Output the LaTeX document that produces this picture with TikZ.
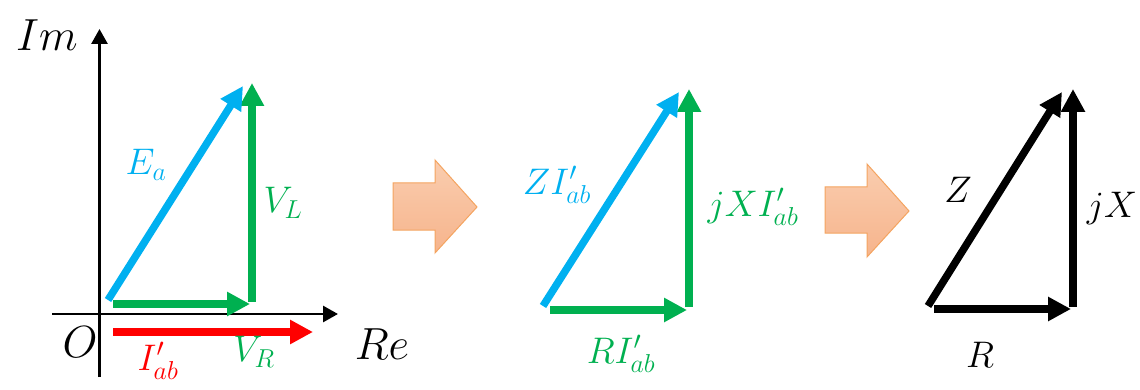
\RequirePackage{fix-cm}
\documentclass[tikz,border=0pt]{standalone}
\usetikzlibrary{arrows.meta}
\definecolor{cblue}{RGB}{0,176,240}
\definecolor{cgreen}{RGB}{0,176,80}
\definecolor{cred}{RGB}{255,0,0}
\definecolor{bafill1}{RGB}{250,205,175}
\definecolor{bafill2}{RGB}{246,180,140}
\definecolor{badraw}{RGB}{244,164,96}
\begin{document}
\begin{tikzpicture}[x=1pt,y=-1pt,
  axis/.style={line width=2.8pt,-{Triangle[length=15pt,width=16pt]}},
  vec/.style={line width=7.5pt,-{Triangle[length=23pt,width=23pt]}},
  lab/.style={inner sep=0pt,font=\fontsize{37}{42}\selectfont},
  biglab/.style={inner sep=0pt,font=\fontsize{45}{50}\selectfont},
  blockarrow/.style={draw=badraw,line width=1pt,top color=bafill1,bottom color=bafill2}]
\useasboundingbox (0,0) rectangle (1140,390);
% left diagram
\coordinate (ax0) at (99.5,377);
\coordinate (ax1) at (99.5,29);
\coordinate (bx0) at (52,314);
\coordinate (bx1) at (338,314);
\draw[axis] (ax0) -- (ax1);
\draw[axis] (bx0) -- (bx1);
\coordinate (ea0) at (108,300);
\coordinate (ea1) at (243,86);
\coordinate (vr0) at (113,304);
\coordinate (vr1) at (250,304);
\coordinate (vl0) at (252,302);
\coordinate (vl1) at (252,83);
\coordinate (i0) at (113,332);
\coordinate (i1) at (313,332);
\draw[vec,cgreen] (vr0) -- (vr1);
\draw[vec,cgreen] (vl0) -- (vl1);
\draw[vec,cblue] (ea0) -- (ea1);
\draw[vec,cred] (i0) -- (i1);
\node[biglab] (im) at (47,35) {$Im$};
\node[biglab] (re) at (382,344) {$Re$};
\node[biglab] (o) at (80,342) {$O$};
\node[lab,text=cblue] (lea) at (146,165) {$E_a$};
\node[lab,text=cgreen] (lvl) at (283,203) {$V_L$};
\node[lab,text=cgreen] (lvr) at (254,352) {$V_R$};
\node[lab,text=cred] (li) at (158,361) {$I'_{ab}$};
% block arrow 1
\draw[blockarrow] (393,183) -- (435,183) -- (435,160) -- (477,207) -- (435,253) -- (435,230) -- (393,230) -- cycle;
% middle diagram
\coordinate (z0) at (543,306);
\coordinate (z1) at (679,92);
\coordinate (r0) at (550,310);
\coordinate (r1) at (687,310);
\coordinate (x0) at (689,307);
\coordinate (x1) at (689,89);
\draw[vec,cgreen] (r0) -- (r1);
\draw[vec,cgreen] (x0) -- (x1);
\draw[vec,cblue] (z0) -- (z1);
\node[lab,text=cblue] (lz) at (557,185) {$ZI'_{ab}$};
\node[lab,text=cgreen] (lx) at (753,207) {$jXI'_{ab}$};
\node[lab,text=cgreen] (lr) at (621,354) {$RI'_{ab}$};
% block arrow 2
\draw[blockarrow] (825,187) -- (867,187) -- (867,164) -- (909,211) -- (867,257) -- (867,233) -- (825,233) -- cycle;
% right diagram
\coordinate (bz0) at (928,306);
\coordinate (bz1) at (1062,92);
\coordinate (br0) at (934,309);
\coordinate (br1) at (1071,309);
\coordinate (bx0r) at (1073,307);
\coordinate (bx1r) at (1073,89);
\draw[vec,black] (br0) -- (br1);
\draw[vec,black] (bx0r) -- (bx1r);
\draw[vec,black] (bz0) -- (bz1);
\node[lab] (lbz) at (958,190) {$Z$};
\node[lab] (lbx) at (1112,208) {$jX$};
\node[lab] (lbr) at (980,355) {$R$};
\end{tikzpicture}
\end{document}
